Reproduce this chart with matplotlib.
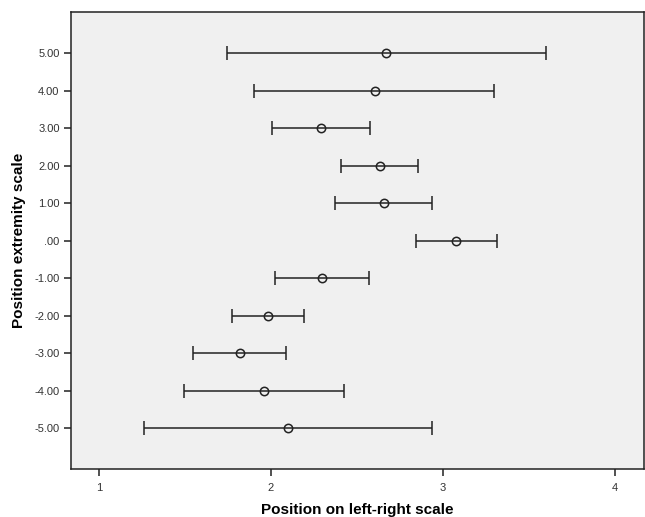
import numpy as np
import matplotlib
matplotlib.use('Agg')
import matplotlib.pyplot as plt

plt.rcParams['font.family'] = ['Liberation Sans', 'DejaVu Sans']

categories = ['5.00', '4.00', '3.00', '2.00', '1.00', '.00',
              '-1.00', '-2.00', '-3.00', '-4.00', '-5.00']
means = [2.671, 2.602, 2.290, 2.633, 2.656, 3.078, 2.296, 1.981, 1.818, 1.958, 2.099]
lower = [1.746, 1.904, 2.004, 2.408, 2.375, 2.844, 2.021, 1.774, 1.549, 1.493, 1.263]
upper = [3.598, 3.298, 2.575, 2.857, 2.935, 3.314, 2.569, 2.190, 2.087, 2.424, 2.937]
x_ticks = [1, 2, 3, 4]


def main():
    fig = plt.figure(figsize=(6.45, 5.17), dpi=100)
    ax = fig.add_axes([0.1096, 0.0928, 0.8888, 0.884])
    ax.set_facecolor('#f0f0f0')

    m = np.array(means)
    lo = np.array(lower)
    hi = np.array(upper)
    ypos = np.arange(len(categories))[::-1]
    ax.errorbar(m, ypos, xerr=[m - lo, hi - m], fmt='o', mfc='none', mec='#222222',
                ms=6, mew=1.1, ecolor='#222222', elinewidth=1.1, capsize=5, capthick=1.1)

    ax.set_xlim(0.836, 4.168)
    ax.set_ylim(-1.09, 11.1)
    ax.set_xticks(x_ticks)
    ax.set_xticklabels([str(t) for t in x_ticks])
    ax.set_yticks(ypos)
    ax.set_yticklabels(categories)
    ax.tick_params(axis='both', direction='out', length=5, width=1.1, color='#222222',
                   labelsize=8, labelcolor='#333333', pad=3)
    ax.tick_params(axis='x', pad=5)
    for s in ax.spines.values():
        s.set_linewidth(1.1)
        s.set_color('#222222')

    ax.set_xlabel('Position on left-right scale', fontsize=11, fontweight='bold', labelpad=7)
    ax.set_ylabel('Position extremity scale', fontsize=11, fontweight='bold', labelpad=6)

    fig.savefig('out.png', dpi=100)


if __name__ == '__main__':
    main()
